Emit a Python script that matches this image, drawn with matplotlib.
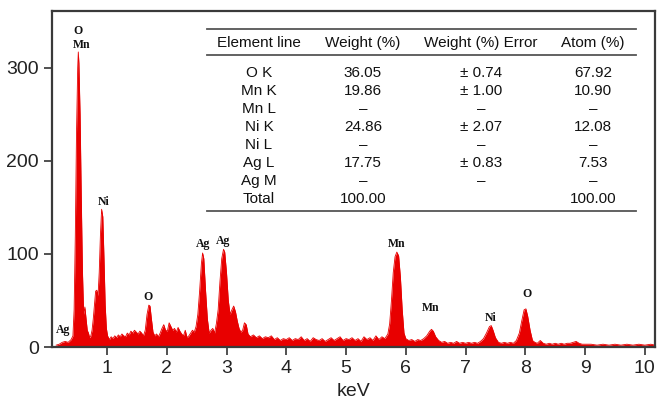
import matplotlib
matplotlib.use("Agg")
import matplotlib.pyplot as plt
from matplotlib.lines import Line2D

# EDS spectrum (keV, counts)
kev = [0.15, 0.20, 0.25, 0.30, 0.35, 0.40, 0.43, 0.45, 0.47, 0.49, 0.51, 0.52, 0.53, 0.55, 0.57,
       0.59, 0.61, 0.63, 0.65, 0.67, 0.69, 0.71, 0.73, 0.75, 0.77, 0.79, 0.81, 0.83, 0.85, 0.87,
       0.89, 0.91, 0.93, 0.95, 0.97, 0.99, 1.01, 1.04, 1.07, 1.10, 1.13, 1.16, 1.19, 1.22, 1.25,
       1.28, 1.31, 1.34, 1.37, 1.40, 1.43, 1.46, 1.49, 1.52, 1.55, 1.58, 1.61, 1.64, 1.67, 1.70,
       1.72, 1.74, 1.77, 1.80, 1.83, 1.86, 1.89, 1.92, 1.95, 1.98, 2.01, 2.04, 2.07, 2.10, 2.13,
       2.16, 2.19, 2.22, 2.25, 2.28, 2.31, 2.34, 2.37, 2.40, 2.43, 2.46, 2.49, 2.52, 2.55, 2.58,
       2.60, 2.62, 2.65, 2.68, 2.71, 2.74, 2.77, 2.80, 2.83, 2.86, 2.89, 2.92, 2.95, 2.97, 3.00,
       3.03, 3.06, 3.09, 3.12, 3.15, 3.18, 3.21, 3.24, 3.27, 3.30, 3.33, 3.36, 3.40, 3.45, 3.50,
       3.55, 3.60, 3.65, 3.70, 3.75, 3.80, 3.85, 3.90, 3.95, 4.00, 4.05, 4.10, 4.15, 4.20, 4.25,
       4.30, 4.35, 4.40, 4.45, 4.50, 4.55, 4.60, 4.65, 4.70, 4.75, 4.80, 4.85, 4.90, 4.95, 5.00,
       5.05, 5.10, 5.15, 5.20, 5.25, 5.30, 5.35, 5.40, 5.45, 5.50, 5.55, 5.60, 5.65, 5.70, 5.73,
       5.76, 5.79, 5.82, 5.85, 5.88, 5.91, 5.94, 5.97, 6.00, 6.05, 6.10, 6.15, 6.20, 6.25, 6.30,
       6.35, 6.40, 6.43, 6.46, 6.50, 6.55, 6.60, 6.65, 6.70, 6.75, 6.80, 6.85, 6.90, 6.95, 7.00,
       7.05, 7.10, 7.15, 7.20, 7.25, 7.30, 7.35, 7.40, 7.43, 7.46, 7.50, 7.55, 7.60, 7.65, 7.70,
       7.75, 7.80, 7.85, 7.90, 7.94, 7.98, 8.01, 8.04, 8.08, 8.12, 8.16, 8.20, 8.25, 8.30, 8.35,
       8.40, 8.45, 8.50, 8.55, 8.60, 8.65, 8.70, 8.75, 8.80, 8.85, 8.90, 8.95, 9.00, 9.10, 9.20,
       9.30, 9.40, 9.50, 9.60, 9.70, 9.80, 9.90, 10.00, 10.10, 10.17]
counts = [2, 3, 5, 6, 5, 8, 12, 40, 120, 230, 300, 317, 305, 250, 160,
          80, 35, 43, 30, 18, 15, 10, 12, 18, 30, 45, 60, 61, 55, 80,
          120, 148, 140, 95, 45, 20, 12, 8, 11, 9, 12, 10, 13, 11, 14,
          12, 11, 15, 13, 17, 15, 18, 16, 14, 17, 15, 12, 18, 35, 45,
          44, 32, 16, 12, 14, 11, 15, 20, 24, 18, 17, 26, 22, 18, 20,
          16, 21, 17, 14, 12, 18, 10, 12, 15, 18, 16, 22, 35, 60, 90,
          101, 95, 60, 30, 15, 18, 20, 15, 25, 40, 70, 95, 105, 102, 80,
          50, 35, 40, 44, 38, 28, 20, 16, 18, 26, 24, 14, 11, 13, 10,
          12, 9, 11, 10, 12, 8, 10, 7, 9, 8, 10, 7, 9, 8, 11,
          7, 9, 6, 10, 8, 7, 9, 6, 8, 10, 7, 9, 11, 7, 9,
          8, 10, 7, 9, 6, 11, 8, 10, 7, 12, 8, 11, 9, 14, 25,
          50, 80, 97, 102, 98, 75, 40, 15, 9, 7, 8, 6, 8, 7, 9,
          12, 17, 19, 17, 11, 7, 5, 6, 4, 5, 4, 6, 4, 5, 4,
          5, 4, 5, 4, 6, 9, 15, 22, 23, 18, 10, 5, 4, 5, 4,
          5, 4, 7, 15, 28, 40, 41, 33, 18, 7, 5, 4, 7, 4, 3,
          4, 3, 4, 3, 4, 3, 4, 4, 5, 6, 4, 3, 3, 3, 2,
          3, 2, 3, 2, 3, 2, 3, 2, 3, 2]

# peak labels (keV, counts, element), label centres
peak_kev = [0.52, 0.58, 0.95, 1.68, 0.27, 2.60, 2.95, 5.85, 6.42, 7.42, 8.02]
peak_cnt = [340, 325, 156, 54, 18, 111, 114, 111, 42, 31, 57]
peak_el = ["O", "Mn", "Ni", "O", "Ag", "Ag", "Ag", "Mn", "Mn", "Ni", "O"]

# table in the upper right
header = ["Element line", "Weight (%)", "Weight (%) Error", "Atom (%)"]
lines = ["O K", "Mn K", "Mn L", "Ni K", "Ni L", "Ag L", "Ag M", "Total"]
weight = ["36.05", "19.86", "\u2013", "24.86", "\u2013", "17.75", "\u2013", "100.00"]
weight_err = ["\u00b1 0.74", "\u00b1 1.00", "\u2013", "\u00b1 2.07", "\u2013", "\u00b1 0.83", "\u2013", ""]
atom = ["67.92", "10.90", "\u2013", "12.08", "\u2013", "7.53", "\u2013", "100.00"]

W, H = 658, 407
fig = plt.figure(figsize=(W / 100, H / 100), dpi=100)
ax = fig.add_axes([52 / W, (H - 347) / H, (655 - 52) / W, (347 - 11) / H])

red = "#e80000"
ax.fill_between(kev, counts, 0, color=red, lw=0)
ax.plot(kev, counts, color=red, lw=0.6)

for x, y, s in zip(peak_kev, peak_cnt, peak_el):
    ax.text(x, y, s, ha="center", va="center", fontsize=8.5, fontweight="bold",
            family="Liberation Serif", color="#111")

ax.set_xlim(0.08, 10.17)
ax.set_ylim(0, 361)
ax.set_xticks(range(1, 11))
ax.set_yticks([0, 100, 200, 300])
ax.tick_params(direction="out", length=6, width=1.2, color="#333",
               labelsize=14, labelcolor="#222")
for lab in ax.get_xticklabels() + ax.get_yticklabels():
    lab.set_family("Liberation Sans")
for sp in ax.spines.values():
    sp.set_color("#3a3a3a")
    sp.set_linewidth(1.6)
ax.set_xlabel("keV", fontsize=14, family="Liberation Sans", color="#222", labelpad=4)

# table drawn in figure pixels
def fx(px):
    return px / W

def fy(py):
    return 1 - py / H

col_x = [259, 363, 481, 593]
for yy in [29, 55, 211]:
    fig.add_artist(Line2D([fx(207), fx(636)], [fy(yy), fy(yy)], color="#555", lw=1.3))
for cx, s in zip(col_x, header):
    fig.text(fx(cx), fy(43), s, ha="center", va="center", fontsize=11,
             family="Liberation Sans", color="#111")
for i, row in enumerate(zip(lines, weight, weight_err, atom)):
    yy = 73 + i * 18.0
    for cx, s in zip(col_x, row):
        fig.text(fx(cx), fy(yy), s, ha="center", va="center", fontsize=11,
                 family="Liberation Sans", color="#111")

fig.savefig("out.png", dpi=100)
